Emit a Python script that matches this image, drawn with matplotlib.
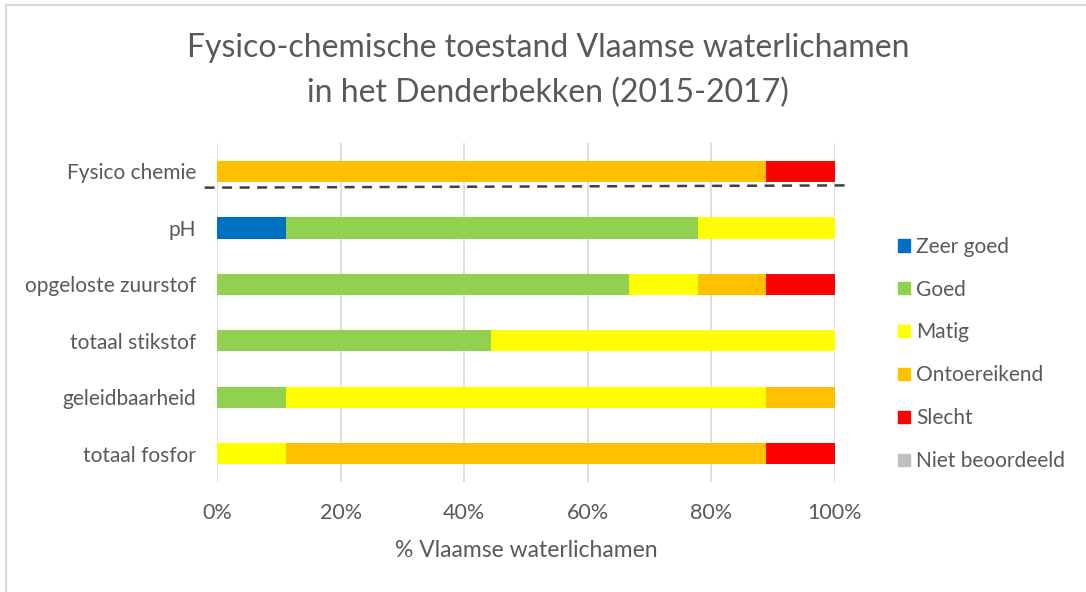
import matplotlib
matplotlib.use("Agg")
import matplotlib.pyplot as plt
from matplotlib.patches import Rectangle
from matplotlib.lines import Line2D
import numpy as np

plt.rcParams['font.family'] = ['Lato', 'DejaVu Sans']

# categories, top to bottom
categories = ["Fysico chemie", "pH", "opgeloste zuurstof", "totaal stikstof",
              "geleidbaarheid", "totaal fosfor"]

# share of water bodies per class (%)
zeer_goed = [0.0, 11.1, 0.0, 0.0, 0.0, 0.0]
goed = [0.0, 66.7, 66.7, 44.4, 11.1, 0.0]
matig = [0.0, 22.2, 11.1, 55.6, 77.8, 11.1]
ontoereikend = [88.9, 0.0, 11.1, 0.0, 11.1, 77.8]
slecht = [11.1, 0.0, 11.1, 0.0, 0.0, 11.1]
niet_beoordeeld = [0.0, 0.0, 0.0, 0.0, 0.0, 0.0]

classes = ["Zeer goed", "Goed", "Matig", "Ontoereikend", "Slecht", "Niet beoordeeld"]
colors = ["#0070C0", "#92D050", "#FFFF00", "#FFC000", "#FF0000", "#BFBFBF"]
series = [zeer_goed, goed, matig, ontoereikend, slecht, niet_beoordeeld]

xticks = [0, 20, 40, 60, 80, 100]
title = "Fysico-chemische toestand Vlaamse waterlichamen\nin het Denderbekken (2015-2017)"
xlabel = "% Vlaamse waterlichamen"

text_col = "#595959"

fig = plt.figure(figsize=(10.86, 5.92), dpi=100)
ax = fig.add_axes([0.1998, 0.1858, 0.5691, 0.5726])

y = np.arange(len(categories))
left = np.zeros(len(categories))
for name, col, vals in zip(classes, colors, series):
    vals = np.array(vals)
    ax.barh(y, vals, left=left, height=0.38, color=col, label=name, zorder=3)
    left += vals

ax.set_ylim(len(categories) - 0.5, -0.5)
ax.set_xlim(0, 100)
ax.set_yticks(y)
ax.set_yticklabels(categories, fontsize=15, color=text_col)
ax.set_xticks(xticks)
ax.set_xticklabels([f"{t}%" for t in xticks], fontsize=15.5, color=text_col)
ax.tick_params(length=0, pad=15)
ax.tick_params(axis='y', pad=15)
ax.xaxis.grid(True, color="#D9D9D9", linewidth=1.2, zorder=0)
for s in ax.spines.values():
    s.set_visible(False)
ax.set_xlabel(xlabel, fontsize=16.5, color=text_col, labelpad=12)

# dashed separator under the summary row
sep = Line2D([-2, 102], [0.29, 0.25], color="#404040", linestyle=(0, (4, 3)),
             linewidth=1.8, zorder=4, clip_on=False)
ax.add_line(sep)

handles = [Rectangle((0, 0), 1, 1, color=c) for c in colors]
leg = fig.legend(handles, classes, loc="upper left", bbox_to_anchor=(0.81, 0.632),
                 frameon=False, fontsize=15, handlelength=0.55, handleheight=0.55,
                 handletextpad=0.3, labelspacing=1.1)
for t in leg.get_texts():
    t.set_color(text_col)

fig.text(0.505, 0.88, title, ha="center", va="center", fontsize=23, color=text_col,
         linespacing=1.6)

# light frame around the chart
fig.add_artist(Line2D([0.0055, 0.0055], [0, 0.992], color="#D9D9D9", linewidth=1.5,
                      transform=fig.transFigure))
fig.add_artist(Line2D([0.0055, 1.0], [0.992, 0.992], color="#D9D9D9", linewidth=1.5,
                      transform=fig.transFigure))

fig.savefig("out.png", dpi=100)
